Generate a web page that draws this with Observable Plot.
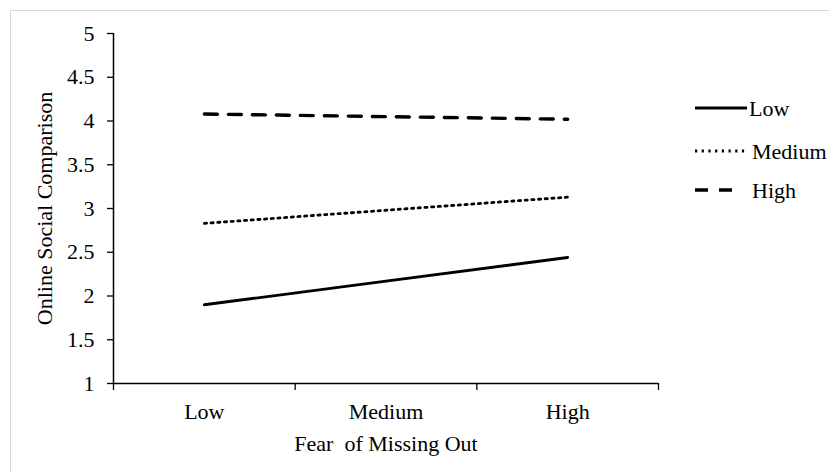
<!DOCTYPE html>
<html>
<head>
<meta charset="utf-8">
<script src="https://cdn.jsdelivr.net/npm/d3@7"></script>
<script src="https://cdn.jsdelivr.net/npm/@observablehq/plot@0.6"></script>
<style>
  html, body { margin: 0; padding: 0; background: #fff; overflow: hidden; }
  #wrap { position: relative; width: 829px; height: 472px; }
  #frame { position: absolute; left: 10px; top: 10px; width: 900px; height: 600px;
           border-top: 1.5px solid #d6d6d6; border-left: 1.5px solid #d6d6d6; }
  #chart { position: absolute; left: 0; top: 0; }
  #legend { position: absolute; left: 0; top: 0; }
</style>
</head>
<body>
<div id="wrap">
  <div id="frame"></div>
  <div id="chart"></div>
  <div id="legend"></div>
</div>
<script>
// Data
const fomoLevels = ["Low", "Medium", "High"];
const seriesNames = ["Low", "Medium", "High"];
const lowValues = [1.90, 2.17, 2.44];
const mediumValues = [2.83, 2.98, 3.13];
const highValues = [4.08, 4.05, 4.02];
const yTicks = [1, 1.5, 2, 2.5, 3, 3.5, 4, 4.5, 5];
const xLabel = "Fear\u00a0 of Missing Out";
const yLabel = "Online Social Comparison";

const seriesValues = [lowValues, mediumValues, highValues];
const dashes = [null, "2.2 4.5", "13 11"];
const widths = [2.8, 2.8, 3.4];

const rows = [];
seriesNames.forEach((s, si) => {
  fomoLevels.forEach((f, i) => rows.push({series: s, idx: i + 0.5, value: seriesValues[si][i]}));
});

const font = "'Liberation Serif', 'Times New Roman', serif";
const fs = 22;

const chart = Plot.plot({
  width: 829,
  height: 472,
  marginLeft: 113,
  marginRight: 171,
  marginTop: 33,
  marginBottom: 89,
  style: {fontFamily: font, fontSize: fs + "px", color: "#000", background: "transparent"},
  x: {domain: [0, fomoLevels.length]},
  y: {domain: [1, 5]},
  marks: [
    Plot.axisY({ticks: yTicks, tickSize: 6, tickPadding: 13, tickFormat: d => `${d}`, fontSize: fs,
                label: yLabel, labelAnchor: "center", labelOffset: 77, labelArrow: "none",
                strokeWidth: 1.3}),
    Plot.axisX({ticks: d3.range(0, fomoLevels.length + 1), tickSize: 7, tickFormat: () => "",
                label: null, strokeWidth: 1.3}),
    Plot.axisX({ticks: fomoLevels.map((_, i) => i + 0.5), tickSize: 0, tickPadding: 20, fontSize: fs,
                tickFormat: d => fomoLevels[Math.floor(d)],
                label: xLabel, labelAnchor: "center", labelOffset: 67, labelArrow: "none"}),
    Plot.ruleX([0], {stroke: "#000", strokeWidth: 1.5}),
    Plot.ruleY([1], {stroke: "#000", strokeWidth: 1.5}),
    ...seriesNames.map((s, si) => Plot.line(rows.filter(r => r.series === s), {
      x: "idx", y: "value", stroke: "#000", strokeWidth: widths[si],
      strokeDasharray: dashes[si] || undefined
    }))
  ]
});
document.getElementById("chart").appendChild(chart);

// Legend (overlay on the right)
const legendY = [108, 151, 190];
const leg = d3.select("#legend").append("svg")
  .attr("width", 829).attr("height", 472)
  .style("font-family", font).style("font-size", fs + "px");
seriesNames.forEach((s, si) => {
  const y = legendY[si];
  leg.append("line")
    .attr("x1", 695).attr("x2", si === 2 ? 733 : 747)
    .attr("y1", y).attr("y2", y)
    .attr("stroke", "#000").attr("stroke-width", widths[si])
    .attr("stroke-dasharray", dashes[si]);
  leg.append("text").attr("x", si === 0 ? 749 : 752).attr("y", y).attr("dy", "0.35em")
    .attr("fill", "#000").text(s);
});
</script>
</body>
</html>
